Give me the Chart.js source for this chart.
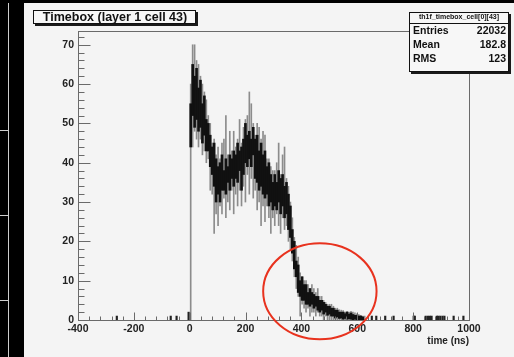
<!DOCTYPE html>
<html>
<head>
<meta charset="utf-8">
<title>Timebox (layer 1 cell 43)</title>
<script src="https://cdn.jsdelivr.net/npm/chart.js@4/dist/chart.umd.min.js"></script>
<style>
  html, body { margin: 0; padding: 0; background: #000; }
  #wrap { width: 514px; height: 357px; position: relative; }
  canvas { display: block; }
</style>
</head>
<body>
<div id="wrap"><canvas id="c" width="514" height="357"></canvas></div>
<script>
// Histogram th1f_timebox_cell[0][43]: hit times in ns, 7 ns wide bins starting at 0 ns.
const FIRST_BIN_NS = 0;
const BIN_WIDTH_NS = 7;

// Per bin: lowest / highest count seen (spikes) and the dense band of counts (core).
const spikeLow = [
   0, 44, 48, 46, 44, 46, 42, 43, 40, 41,
  33, 32, 22, 27, 24, 29, 27, 31, 26, 30,
  28, 33, 27, 32, 29, 33, 29, 34, 30, 37,
  32, 36, 31, 33, 28, 30, 24, 29, 25, 29,
  26, 22, 26, 24, 27, 24, 22, 26, 23, 24,
  20, 18, 15, 11,  8,  6,  1,  4,  3,  2,
   3,  1,  2,  2,  1,  2,  1,  1,  0,  1,
   0,  0,  0,  0,  0,  0,  0,  0,  0,  0,
   0,  0,  0,  0,  0,  0,  0,  0,  0,  0
];
const coreLow = [
  44, 52, 49, 51, 48, 49, 45, 47, 43, 43,
  39, 37, 34, 30, 32, 30, 33, 33, 32, 35,
  33, 36, 34, 36, 35, 38, 33, 37, 40, 39,
  41, 39, 42, 36, 35, 33, 34, 32, 31, 32,
  29, 30, 28, 29, 28, 30, 27, 29, 26, 27,
  23, 21, 17, 13, 11,  7,  6,  5,  5,  4,
   4, 3.5, 4, 3, 3.5, 2.5, 2, 2.5, 1.5, 2,
 1.2, 1.5, 1, 1, 0.5, 0.8, 0.4, 0.5, 0.2, 0.4,
 0.2, 0.3, 0.2, 0, 0.2, 0,  0,  0,  0,  0
];
const coreHigh = [
  55, 65, 62, 64, 59, 61, 55, 57, 51, 50,
  47, 44, 45, 41, 39, 40, 42, 38, 41, 39,
  42, 41, 43, 42, 45, 43, 44, 46, 50, 47,
  48, 46, 49, 46, 47, 43, 45, 42, 43, 39,
  40, 37, 35, 37, 35, 38, 36, 37, 34, 35,
  32, 29, 23, 20, 15, 14, 10, 11,  9,  9,
   7,  8,  7, 6.5, 6,  6,  5,  5, 4.5, 4,
 3.5, 3.5, 3, 3, 2.5, 2.5, 2,  2,  2, 1.6,
   2, 1.5, 1.8, 1.4, 1.2, 1.2, 1, 1, 0.8, 0
];
const spikeHigh = [
  60, 70, 70, 66, 65, 62, 60, 58, 56, 52,
  50, 45, 46, 42, 44, 41, 45, 46, 52, 42,
  48, 43, 48, 44, 46, 51, 45, 49, 51, 52,
  58, 55, 50, 47, 50, 49, 46, 48, 47, 41,
  41, 39, 38, 38, 40, 45, 37, 42, 44, 36,
  34, 30, 26, 21, 19, 16, 12, 11, 10, 10,
   9,  8,  9,  8,  7,  8,  6,  6,  5, 4.5,
   4,  4,  4, 3.5, 3,  3, 2.6, 2.5, 2.4, 2,
 2.2, 2, 2.2, 2, 1.8, 1.6, 1.4, 1.2, 1,  1
];

// Isolated hits outside the main pulse (time in ns, counts).
const strayHitTimes  = [-261, -68, -47, -4, 652, 668, 700, 730, 802, 806, 845, 853, 860, 866, 885, 890, 897, 905, 912, 945, 980];
const strayHitCounts = [   1,   1,   1,  2,   1,   1,   1,   1,   1,   1,   1,   1,   1,   1,   1,   1,   1,   1,   1,   1,   1];

// Statistics box entries.
const statsName = 'th1f_timebox_cell[0][43]';
const statsLabels = ['Entries', 'Mean', 'RMS'];
const statsValues = ['22032', '182.8', '123'];

// Axis ranges and tick spacing.
const X_MIN = -400, X_MAX = 1000, X_MAJOR = 200, X_MINOR = 40;
const Y_MIN = 0, Y_MAX = 73.5, Y_MAJOR = 10, Y_MINOR = 2;

// Hand-drawn marker around the tail, in data units.
const tailMarker = { centerNs: 466, centerCount: 7.3, radiusNs: 203, radiusCount: 12.2 };

const binCenter = i => FIRST_BIN_NS + BIN_WIDTH_NS * (i + 0.5);
const spikeData = spikeLow.map((lo, i) => ({ x: binCenter(i), y: [lo, spikeHigh[i]] }));
const coreData  = coreLow.map((lo, i) => ({ x: binCenter(i), y: [lo, coreHigh[i]] }));
const strayData = strayHitTimes.map((t, i) => ({ x: t, y: [0, strayHitCounts[i]] }));

const FONT = '"Liberation Sans", Arial, Helvetica, sans-serif';

const decorations = {
  id: 'decorations',
  beforeDraw(chart) {
    const ctx = chart.ctx;
    ctx.save();
    // canvas frame
    ctx.fillStyle = '#000';
    ctx.fillRect(0, 0, 514, 357);
    ctx.fillStyle = '#f4f4f4';
    ctx.fillRect(24, 3, 490, 354);
    // side panel edges
    ctx.strokeStyle = '#cfcfcf';
    ctx.lineWidth = 1;
    ctx.beginPath();
    ctx.moveTo(8.5, 3); ctx.lineTo(8.5, 357);
    [130.5, 215.5, 300.5].forEach(y => { ctx.moveTo(0, y); ctx.lineTo(9, y); });
    ctx.stroke();
    ctx.restore();
  },
  afterDatasetsDraw(chart) {
    const ctx = chart.ctx;
    const xs = chart.scales.x, ys = chart.scales.y;
    const a = chart.chartArea;
    ctx.save();
    // frame
    ctx.strokeStyle = '#6a6a6a';
    ctx.lineWidth = 1;
    ctx.strokeRect(Math.round(a.left) + 0.5, Math.round(a.top) + 0.5,
                   Math.round(a.right - a.left), Math.round(a.bottom - a.top));
    // ticks drawn inward
    ctx.beginPath();
    const yb = Math.round(a.bottom) + 0.5;
    for (let v = X_MIN; v <= X_MAX + 1e-9; v += X_MINOR) {
      const px = Math.round(xs.getPixelForValue(v)) + 0.5;
      const len = (Math.abs((v - X_MIN) % X_MAJOR) < 1e-6) ? 8 : 4;
      ctx.moveTo(px, yb); ctx.lineTo(px, yb - len);
    }
    const xl = Math.round(a.left) + 0.5;
    for (let v = Y_MIN; v <= Y_MAX + 1e-9; v += Y_MINOR) {
      const py = Math.round(ys.getPixelForValue(v)) + 0.5;
      const len = (Math.abs(v % Y_MAJOR) < 1e-6) ? 12 : 6;
      ctx.moveTo(xl, py); ctx.lineTo(xl + len, py);
    }
    ctx.stroke();
    ctx.restore();
  },
  afterDraw(chart) {
    const ctx = chart.ctx;
    const xs = chart.scales.x, ys = chart.scales.y;
    ctx.save();

    // tail marker
    const cx = xs.getPixelForValue(tailMarker.centerNs);
    const cy = ys.getPixelForValue(tailMarker.centerCount);
    const rx = Math.abs(xs.getPixelForValue(tailMarker.centerNs + tailMarker.radiusNs) - cx);
    const ry = Math.abs(ys.getPixelForValue(tailMarker.centerCount + tailMarker.radiusCount) - cy);
    ctx.strokeStyle = '#e8321e';
    ctx.lineWidth = 2;
    ctx.beginPath();
    ctx.ellipse(cx, cy, rx, ry, 0, 0, Math.PI * 2);
    ctx.stroke();

    // axis title
    ctx.fillStyle = '#222';
    ctx.font = 'bold 10px ' + FONT;
    ctx.textAlign = 'right';
    ctx.textBaseline = 'middle';
    ctx.fillText('time (ns)', Math.round(chart.chartArea.right), 341);

    // title box with shadow
    const drawBox = (x, y, w, h) => {
      ctx.fillStyle = '#1a1a1a';
      ctx.fillRect(x + 2, y + 2, w, h);
      ctx.fillStyle = '#f7f7f7';
      ctx.fillRect(x, y, w, h);
      ctx.strokeStyle = '#111';
      ctx.lineWidth = 1;
      ctx.strokeRect(x + 0.5, y + 0.5, w - 1, h - 1);
    };
    drawBox(33, 10, 163, 14);
    ctx.fillStyle = '#111';
    ctx.font = 'bold 12.5px ' + FONT;
    ctx.textAlign = 'center';
    ctx.textBaseline = 'middle';
    ctx.fillText('Timebox (layer 1 cell 43)', 115, 17.5, 146);

    // statistics box
    drawBox(409, 12, 100, 60);
    ctx.strokeStyle = '#111';
    ctx.beginPath();
    ctx.moveTo(409, 23.5); ctx.lineTo(509, 23.5);
    ctx.stroke();
    ctx.fillStyle = '#111';
    ctx.font = 'bold 7px ' + FONT;
    ctx.textAlign = 'center';
    ctx.fillText(statsName, 459, 17.5, 88);
    ctx.font = 'bold 10.5px ' + FONT;
    statsLabels.forEach((lab, i) => {
      const y = 31.5 + i * 14;
      ctx.textAlign = 'left';
      ctx.fillText(lab, 413, y);
      ctx.textAlign = 'right';
      ctx.fillText(statsValues[i], 506, y);
    });
    ctx.restore();
  }
};

new Chart(document.getElementById('c'), {
  type: 'bar',
  data: {
    datasets: [
      { label: 'spikes', data: spikeData, backgroundColor: '#8c8c8c', borderWidth: 0,
        barThickness: 1, grouped: false, order: 2 },
      { label: 'core', data: coreData, backgroundColor: '#111', borderWidth: 0,
        barThickness: 2, grouped: false, order: 1 },
      { label: 'stray', data: strayData, backgroundColor: '#222', borderWidth: 0,
        barThickness: 1.5, grouped: false, order: 0 }
    ]
  },
  options: {
    responsive: false,
    animation: false,
    devicePixelRatio: 1,
    layout: { padding: { top: 31, right: 45, left: 0, bottom: 0 } },
    plugins: { legend: { display: false }, tooltip: { enabled: false }, title: { display: false } },
    scales: {
      x: {
        type: 'linear', min: X_MIN, max: X_MAX, offset: false,
        grid: { display: false, drawTicks: false }, border: { display: false },
        ticks: { stepSize: X_MAJOR, padding: 3, maxRotation: 0, autoSkip: false,
                 callback: v => String(v),
                 color: '#222', font: { family: FONT, size: 10.5, weight: 'bold' } },
        afterFit(s) { s.height = 37; }
      },
      y: {
        min: Y_MIN, max: Y_MAX,
        grid: { display: false, drawTicks: false }, border: { display: false },
        ticks: { stepSize: Y_MAJOR, padding: 4, color: '#222',
                 callback: v => String(v),
                 font: { family: FONT, size: 10.5, weight: 'bold' } },
        afterBuildTicks(s) { s.ticks = s.ticks.filter(t => Math.abs(t.value % Y_MAJOR) < 1e-6); },
        afterFit(s) { s.width = 78; }
      }
    }
  },
  plugins: [decorations]
});
</script>
</body>
</html>
